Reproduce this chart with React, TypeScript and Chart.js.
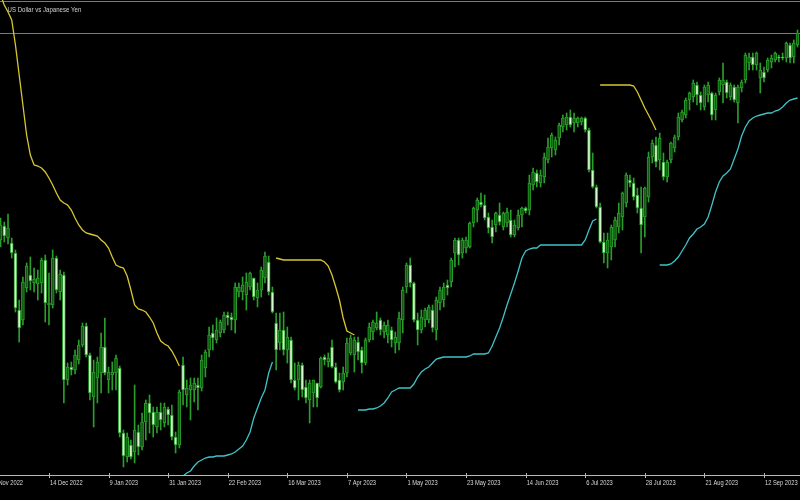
import React, { useEffect, useRef } from "react";
import { Chart, registerables } from "chart.js";

Chart.register(...registerables);

// ---- Data: USD/JPY daily candles, bar index 3 .. 217 ----
const FIRST_BAR = 3;

const opens = [
  138.45, 139.15, 138.55, 138.30, 137.80, 134.95, 134.45, 136.05, 136.70, 136.30,
  136.25, 136.30, 137.45, 135.20, 135.20, 137.55, 135.85, 136.70, 131.45, 132.10,
  131.95, 132.45, 133.20, 134.15, 132.70, 130.60, 131.55, 131.80, 133.10, 131.45,
  131.70, 131.80, 132.05, 128.80, 127.60, 128.20, 127.85, 128.85, 128.10, 129.35,
  130.30, 129.85, 129.10, 129.85, 129.30, 130.00, 129.70, 128.60, 128.20, 132.20,
  130.70, 130.95, 130.95, 131.20, 131.05, 132.05, 132.95, 133.80, 133.45, 133.80,
  133.95, 134.70, 134.60, 134.45, 135.85, 135.85, 135.70, 136.10, 136.55, 135.55,
  135.95, 136.55, 137.35, 135.85, 134.30, 133.30, 133.95, 132.95, 133.45, 131.45,
  131.45, 132.20, 131.10, 130.45, 130.80, 131.30, 131.10, 132.60, 132.35, 133.10,
  132.10, 131.45, 131.35, 131.80, 132.80, 132.70, 133.35, 132.95, 132.30, 133.45,
  133.85, 134.05, 134.45, 133.85, 133.70, 133.95, 133.30, 133.30, 134.45, 136.10,
  137.20, 136.30, 134.45, 133.95, 134.45, 134.45, 134.95, 133.95, 135.30, 135.45,
  136.20, 136.35, 137.80, 138.45, 137.80, 138.05, 138.10, 139.30, 139.95, 140.35,
  140.20, 139.60, 139.10, 139.20, 139.70, 139.10, 139.30, 139.45, 138.70, 139.05,
  139.70, 140.05, 139.95, 141.20, 141.80, 141.30, 141.60, 142.45, 143.05, 142.95,
  143.55, 144.10, 144.20, 144.60, 144.30, 144.30, 144.35, 144.55, 143.95, 141.95,
  141.10, 140.10, 138.35, 137.80, 138.10, 138.45, 139.10, 139.60, 140.30, 141.45,
  141.30, 140.70, 140.05, 139.60, 140.60, 142.60, 143.20, 142.45, 142.35, 141.60,
  142.45, 143.05, 143.60, 144.45, 144.70, 145.45, 145.60, 146.20, 145.70, 145.10,
  145.70, 145.80, 144.95, 145.85, 146.20, 146.35, 145.60, 146.10, 145.30, 146.05,
  146.45, 147.30, 147.60, 147.20, 146.55, 146.85, 146.95, 147.35, 147.45, 147.60,
  147.60, 147.55, 148.20, 147.60, 148.20,
];

const highs = [
  139.55, 139.35, 139.75, 138.55, 137.95, 135.45, 136.60, 137.30, 137.60, 137.05,
  136.95, 137.55, 137.70, 136.80, 137.95, 137.65, 136.95, 136.85, 132.30, 132.35,
  132.95, 133.45, 134.30, 134.30, 132.80, 132.45, 132.60, 133.80, 134.55, 132.10,
  132.35, 132.70, 132.15, 128.95, 128.80, 128.45, 131.20, 129.20, 129.80, 130.45,
  130.70, 130.10, 130.10, 130.30, 130.30, 130.10, 130.20, 128.85, 130.95, 132.60,
  131.45, 131.55, 131.55, 131.55, 132.70, 132.95, 134.10, 134.20, 134.55, 134.45,
  134.85, 134.85, 134.80, 136.30, 136.30, 136.60, 136.80, 136.85, 136.55, 136.30,
  137.10, 137.85, 137.65, 136.10, 134.80, 134.80, 134.85, 134.10, 133.60, 132.30,
  132.35, 132.30, 131.45, 131.45, 131.45, 131.30, 132.60, 132.70, 132.80, 133.45,
  132.30, 131.80, 132.10, 133.55, 133.70, 133.60, 133.60, 133.10, 133.55, 134.30,
  134.45, 134.85, 134.55, 134.35, 134.45, 134.10, 133.85, 134.85, 136.10, 137.30,
  137.55, 136.35, 134.80, 134.95, 135.05, 135.20, 135.20, 135.60, 136.10, 136.30,
  136.45, 137.55, 138.55, 138.55, 138.55, 138.60, 139.35, 140.10, 140.55, 140.80,
  140.70, 139.80, 139.45, 139.85, 140.30, 139.85, 140.05, 139.95, 139.45, 139.95,
  140.10, 140.10, 141.70, 142.05, 141.95, 141.95, 142.80, 143.55, 143.80, 143.60,
  144.30, 144.70, 144.80, 144.95, 144.80, 144.60, 144.60, 144.60, 144.05, 142.80,
  141.20, 140.30, 138.80, 138.80, 139.20, 139.60, 140.30, 140.85, 141.80, 141.70,
  141.55, 141.05, 141.10, 141.10, 142.85, 143.45, 143.60, 143.80, 142.80, 142.45,
  143.35, 143.70, 144.80, 144.95, 145.55, 145.85, 146.45, 146.35, 145.85, 146.20,
  146.35, 145.85, 145.80, 146.55, 147.30, 146.45, 146.30, 146.20, 146.20, 146.45,
  147.80, 147.80, 147.80, 147.85, 147.30, 147.10, 147.55, 147.70, 147.85, 147.70,
  147.80, 148.35, 148.30, 148.45, 148.95,
];

const lows = [
  138.10, 138.35, 138.25, 137.55, 134.85, 133.35, 134.20, 135.85, 135.95, 135.85,
  135.45, 135.80, 134.35, 134.20, 135.05, 135.80, 135.45, 130.30, 131.20, 131.70,
  131.75, 132.25, 133.10, 132.60, 130.45, 129.10, 130.30, 130.80, 131.70, 130.80,
  130.95, 130.95, 128.60, 127.10, 127.35, 127.50, 127.30, 127.70, 127.95, 128.45,
  128.80, 128.60, 128.80, 128.95, 129.10, 129.20, 128.45, 127.80, 128.05, 130.20,
  130.10, 129.45, 130.35, 129.95, 130.90, 131.60, 132.60, 132.95, 133.30, 133.60,
  133.80, 134.20, 133.95, 133.80, 135.60, 135.45, 134.95, 135.95, 135.45, 135.10,
  135.60, 136.30, 135.70, 134.80, 131.95, 132.95, 132.70, 132.30, 131.30, 130.95,
  130.45, 130.60, 130.30, 129.30, 130.10, 130.10, 131.05, 132.20, 132.10, 132.05,
  131.30, 130.85, 130.95, 131.60, 132.70, 131.85, 132.45, 131.80, 132.20, 133.35,
  133.45, 133.95, 133.70, 133.55, 133.30, 133.10, 132.80, 132.95, 133.80, 135.80,
  136.10, 134.35, 133.20, 133.80, 134.10, 134.30, 133.85, 133.45, 134.95, 135.10,
  135.70, 136.10, 137.10, 137.20, 137.55, 137.80, 138.05, 139.10, 139.35, 140.10,
  139.45, 138.80, 138.30, 138.85, 139.20, 138.95, 139.10, 138.60, 138.60, 138.95,
  139.10, 139.80, 139.70, 140.95, 141.10, 141.10, 141.30, 142.30, 142.60, 142.70,
  143.20, 143.85, 143.95, 144.10, 143.85, 144.10, 144.20, 143.85, 141.85, 141.05,
  140.05, 138.30, 137.30, 137.05, 137.45, 138.10, 138.80, 138.95, 140.10, 141.10,
  140.45, 139.80, 137.80, 138.60, 140.35, 142.30, 142.10, 141.95, 141.45, 141.35,
  142.30, 142.85, 143.45, 144.35, 144.55, 144.95, 145.35, 145.20, 144.95, 144.95,
  145.35, 144.45, 144.45, 145.70, 145.30, 145.55, 145.45, 145.35, 144.30, 145.85,
  146.30, 146.95, 146.95, 146.95, 145.80, 146.35, 146.85, 147.05, 147.35, 147.35,
  147.45, 147.35, 147.30, 147.30, 148.10,
];

const closes = [
  139.20, 138.65, 139.05, 137.80, 135.05, 134.05, 136.35, 137.15, 136.40, 136.50,
  136.55, 137.45, 135.30, 135.30, 137.55, 135.95, 136.75, 131.45, 132.10, 131.95,
  132.70, 133.20, 134.15, 132.70, 130.80, 131.85, 132.35, 133.10, 131.80, 131.85,
  131.85, 132.55, 128.80, 127.65, 128.60, 127.60, 128.95, 128.10, 129.35, 130.30,
  129.80, 129.20, 129.85, 129.45, 130.10, 129.70, 128.60, 128.20, 130.85, 130.95,
  131.05, 131.20, 131.30, 131.05, 132.45, 132.85, 133.70, 133.55, 133.95, 134.35,
  134.70, 134.55, 134.45, 136.10, 136.10, 136.20, 136.35, 136.80, 135.60, 135.95,
  136.95, 137.65, 135.85, 134.85, 132.95, 133.95, 132.95, 133.60, 131.45, 131.05,
  132.20, 130.95, 130.55, 131.30, 131.45, 130.55, 132.55, 132.45, 132.55, 132.10,
  131.35, 130.95, 131.80, 133.30, 133.55, 133.45, 132.85, 132.30, 133.45, 134.10,
  134.35, 134.30, 133.95, 134.20, 134.20, 133.45, 133.60, 134.55, 135.95, 137.20,
  136.30, 134.45, 133.95, 134.60, 134.95, 135.10, 134.05, 135.45, 135.95, 136.10,
  136.05, 137.45, 138.45, 137.70, 138.45, 138.45, 139.30, 140.05, 140.45, 140.20,
  139.55, 139.05, 138.60, 139.80, 139.35, 139.80, 139.85, 138.70, 139.20, 139.70,
  140.05, 139.90, 141.30, 141.85, 141.35, 141.70, 142.60, 143.10, 143.70, 143.45,
  144.20, 144.55, 144.60, 144.20, 144.55, 144.55, 144.55, 143.95, 141.95, 141.10,
  140.10, 138.35, 137.80, 138.45, 139.10, 139.45, 139.80, 140.80, 141.70, 141.30,
  140.60, 140.05, 139.20, 141.05, 142.60, 143.30, 142.35, 143.55, 141.60, 142.35,
  143.30, 143.60, 144.60, 144.85, 145.45, 145.80, 146.30, 145.70, 145.30, 146.10,
  146.20, 144.70, 145.70, 146.45, 146.45, 145.80, 146.20, 145.45, 146.10, 146.35,
  147.70, 147.60, 147.20, 147.80, 146.95, 146.55, 147.45, 147.55, 147.80, 147.55,
  147.55, 148.30, 147.55, 148.30, 148.80,
];

// Yellow trend-stop line (downtrend), three segments
const yellow1Start = 3;
const yellow1 = [
  150.70, 150.20, 149.85, 149.45, 148.20, 146.70, 145.20, 143.70, 142.70, 142.20,
  142.15, 142.05, 141.85, 141.55, 141.20, 140.80, 140.45, 140.30, 140.20, 139.95,
  139.55, 139.20, 138.95, 138.80, 138.75, 138.70, 138.65, 138.45, 138.30, 138.05,
  137.60, 137.20, 137.10, 137.05, 136.65, 135.95, 135.20, 135.00, 134.95, 134.85,
  134.60, 134.30, 133.80, 133.40, 133.25, 133.15, 132.90, 132.55, 132.15,
];
const yellow2Start = 77;
const yellow2 = [
  137.55, 137.50, 137.45, 137.45, 137.45, 137.45, 137.45, 137.45, 137.45, 137.45,
  137.45, 137.45, 137.45, 137.35, 137.15, 136.70, 136.10, 135.45, 134.55, 133.90,
  133.80, 133.70,
];
const yellow3Start = 164;
const yellow3 = [
  146.20, 146.20, 146.20, 146.20, 146.20, 146.20, 146.20, 146.20, 146.20, 146.15,
  145.85, 145.45, 145.05, 144.70, 144.35, 143.95,
];

// Cyan trend-stop line (uptrend), three segments
const cyan1Start = 52;
const cyan1 = [
  126.65, 126.80, 126.90, 127.15, 127.35, 127.45, 127.55, 127.60, 127.60, 127.65,
  127.65, 127.65, 127.70, 127.75, 127.85, 128.00, 128.15, 128.45, 128.85, 129.55,
  130.05, 130.55, 130.95, 131.80, 132.35,
];
const cyan2Start = 99;
const cyan2 = [
  129.95, 129.95, 129.95, 130.00, 130.00, 130.05, 130.15, 130.30, 130.55, 130.85,
  130.95, 131.05, 131.05, 131.05, 131.05, 131.25, 131.60, 131.85, 132.00, 132.10,
  132.30, 132.50, 132.55, 132.60, 132.60, 132.60, 132.60, 132.60, 132.60, 132.60,
  132.65, 132.75, 132.75, 132.75, 132.75, 132.80, 133.15, 133.60, 134.05, 134.60,
  135.20, 135.75, 136.30, 136.90, 137.55, 137.90, 138.00, 138.05, 138.05, 138.20,
  138.20, 138.20, 138.20, 138.20, 138.20, 138.20, 138.20, 138.20, 138.20, 138.20,
  138.20, 138.45, 138.95, 139.40, 139.50,
];
const cyan3Start = 180;
const cyan3 = [
  137.20, 137.20, 137.20, 137.25, 137.40, 137.60, 137.90, 138.20, 138.55, 138.75,
  139.00, 139.10, 139.25, 139.60, 140.20, 140.85, 141.35, 141.65, 141.80, 142.00,
  142.50, 143.00, 143.65, 144.10, 144.40, 144.55, 144.65, 144.70, 144.75, 144.80,
  144.80, 144.90, 144.95, 145.10, 145.30, 145.45, 145.50, 145.55,
];

// Time axis tick labels (every 16 bars)
const tickLabels = [
  "22 Nov 2022", "14 Dec 2022", "9 Jan 2023", "31 Jan 2023", "22 Feb 2023",
  "16 Mar 2023", "7 Apr 2023", "1 May 2023", "23 May 2023", "14 Jun 2023",
  "6 Jul 2023", "28 Jul 2023", "21 Aug 2023", "12 Sep 2023",
];
const tickBars = [0, 16, 32, 48, 64, 80, 96, 112, 128, 144, 160, 176, 192, 208];

const TITLE = "US Dollar vs Japanese Yen";

const GREEN = "#2a9e2a";
const BULL_FILL = "#145a14";
const BEAR_FILL = "#d6f7cf";
const YELLOW = "#d8c632";
const CYAN = "#3fc3c8";

function seg(start: number, vals: number[]) {
  return vals.map((v, k) => ({ x: start + k, y: v }));
}

const overlayPlugin = {
  id: "mtOverlay",
  beforeDatasetsDraw(chart: any) {
    const ctx = chart.ctx;
    const y = chart.scales.y;
    const W = chart.width;
    ctx.save();
    ctx.strokeStyle = "#7a7a7a";
    ctx.lineWidth = 1;
    ctx.beginPath();
    ctx.moveTo(0, 1.5);
    ctx.lineTo(W, 1.5);
    const py = Math.round(y.getPixelForValue(closes[closes.length - 1])) + 0.5;
    ctx.moveTo(0, py);
    ctx.lineTo(W, py);
    ctx.stroke();
    ctx.restore();
  },
  afterDraw(chart: any) {
    const ctx = chart.ctx;
    const x = chart.scales.x;
    const area = chart.chartArea;
    const W = chart.width;
    ctx.save();
    // axis line
    ctx.strokeStyle = "#b8b8b8";
    ctx.lineWidth = 1;
    ctx.beginPath();
    ctx.moveTo(0, area.bottom + 0.5);
    ctx.lineTo(W, area.bottom + 0.5);
    ctx.stroke();
    // ticks + labels
    ctx.fillStyle = "#d8d8d8";
    ctx.font = '8px "Liberation Sans", Arial, sans-serif';
    ctx.textBaseline = "alphabetic";
    ctx.textAlign = "left";
    tickBars.forEach((b, k) => {
      const px = x.getPixelForValue(b);
      ctx.beginPath();
      ctx.moveTo(Math.round(px) + 0.5, area.bottom - 2);
      ctx.lineTo(Math.round(px) + 0.5, area.bottom + 3);
      ctx.stroke();
      ctx.save();
      ctx.translate(px + 1, area.bottom + 9.5);
      ctx.scale(0.72, 1);
      ctx.fillText(tickLabels[k], 0, 0);
      ctx.restore();
    });
    // title
    ctx.fillStyle = "#d2d2d2";
    ctx.save();
    ctx.translate(7.5, 11.5);
    ctx.scale(0.76, 1);
    ctx.font = '8px "Liberation Sans", Arial, sans-serif';
    ctx.fillText(TITLE, 0, 0);
    ctx.restore();
    ctx.restore();
  },
};

export default function App() {
  const ref = useRef<HTMLCanvasElement | null>(null);

  useEffect(() => {
    if (!ref.current) return;
    const wickData = opens.map((_, k) => ({ x: FIRST_BAR + k, y: [lows[k], highs[k]] }));
    const bodyData = opens.map((o, k) => ({ x: FIRST_BAR + k, y: [o, closes[k]] }));
    const bodyFill = opens.map((o, k) => (closes[k] >= o ? BULL_FILL : BEAR_FILL));

    const lineDs = (data: any[], color: string) => ({
      type: "line" as const,
      data,
      borderColor: color,
      borderWidth: 1.3,
      pointRadius: 0,
      fill: false,
      tension: 0,
      order: 0,
    });

    const chart = new Chart(ref.current, {
      type: "bar",
      data: {
        datasets: [
          {
            type: "bar",
            data: wickData as any,
            backgroundColor: GREEN,
            barThickness: 1,
            grouped: false,
            order: 2,
          } as any,
          {
            type: "bar",
            data: bodyData as any,
            backgroundColor: bodyFill,
            borderColor: GREEN,
            borderWidth: 1,
            borderSkipped: false,
            barThickness: 3,
            grouped: false,
            order: 1,
          } as any,
          lineDs(seg(yellow1Start, yellow1), YELLOW),
          lineDs(seg(yellow2Start, yellow2), YELLOW),
          lineDs(seg(yellow3Start, yellow3), YELLOW),
          lineDs(seg(cyan1Start, cyan1), CYAN),
          lineDs(seg(cyan2Start, cyan2), CYAN),
          lineDs(seg(cyan3Start, cyan3), CYAN),
        ] as any,
      },
      options: {
        responsive: false,
        animation: false,
        events: [],
        layout: { padding: { left: 0, right: 0, top: 0, bottom: 25 } },
        plugins: { legend: { display: false }, tooltip: { enabled: false } },
        scales: {
          x: { type: "linear", min: 2.85, max: 217.67, display: false, offset: false },
          y: { type: "linear", min: 126.7, max: 150.45, display: false },
        },
      },
      plugins: [overlayPlugin],
    });
    return () => chart.destroy();
  }, []);

  return (
    <div style={{ position: "absolute", left: 0, top: 0, width: 800, height: 500, background: "#000" }}>
      <canvas ref={ref} width={800} height={500} style={{ display: "block" }} />
    </div>
  );
}
